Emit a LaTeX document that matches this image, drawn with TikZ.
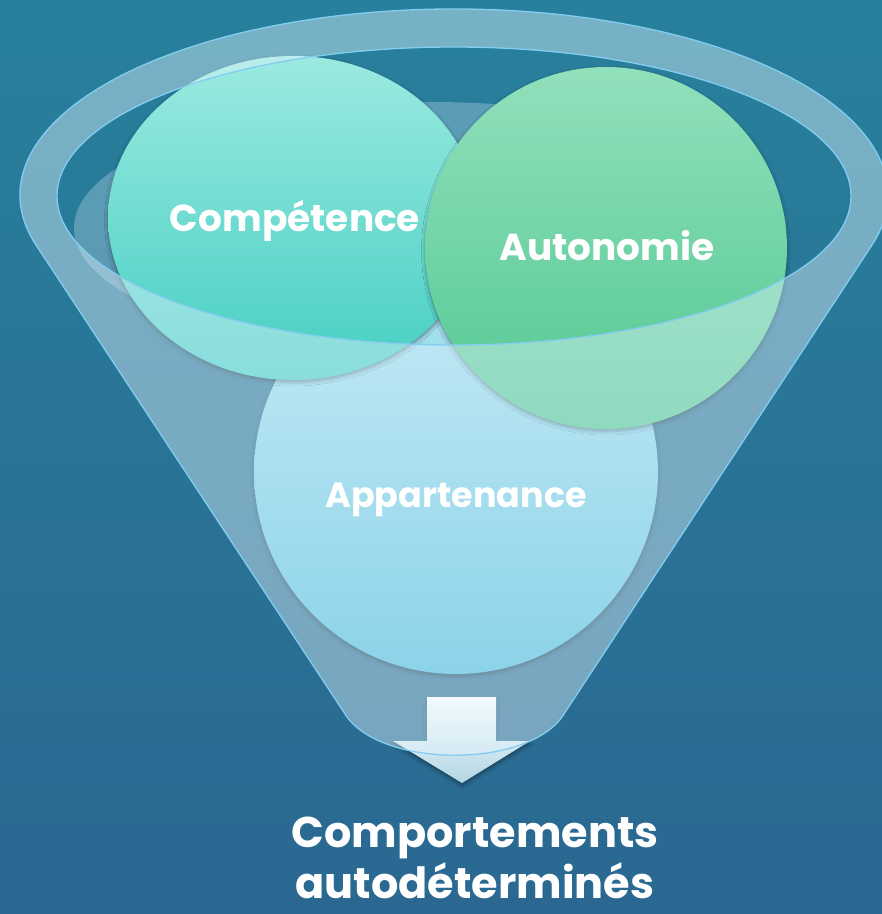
\documentclass[tikz,border=0pt]{standalone}
\usepackage{fontspec}
\setmainfont{Poppins}
\usetikzlibrary{shadows.blur}
\definecolor{bgtop}{RGB}{40,128,156}
\definecolor{bgbot}{RGB}{42,104,145}
\definecolor{glass}{RGB}{225,243,252}
\definecolor{rimline}{RGB}{130,205,240}
\definecolor{comptop}{RGB}{155,234,224}
\definecolor{compbot}{RGB}{70,206,194}
\definecolor{autotop}{RGB}{145,224,187}
\definecolor{autobot}{RGB}{82,200,146}
\definecolor{apptop}{RGB}{178,229,241}
\definecolor{appbot}{RGB}{76,187,220}
\definecolor{arrowbot}{RGB}{178,214,228}
\begin{document}
\begin{tikzpicture}[x=1pt,y=-1pt,
  lbl/.style={text=white,font=\bfseries\fontsize{37.5}{37.5}\selectfont,anchor=base,inner sep=0pt},
  big/.style={lbl,font=\bfseries\fontsize{43}{43}\selectfont},
  bubble/.style={blur shadow={shadow xshift=0pt,shadow yshift=-2.5pt,shadow blur radius=3.5pt,shadow opacity=40}},
  rimedge/.style={draw=rimline,line width=1.3pt}]
\useasboundingbox (0,0) rectangle (882,914);
\shade[top color=bgtop,bottom color=bgbot] (0,0) rectangle (882,914);
% back inner wall of the funnel
\fill[glass,opacity=.28] (430,228) ellipse[x radius=356pt,y radius=126pt];
% circles
\path[bubble,top color=apptop,bottom color=appbot] (456,472) circle[radius=202pt];
\path[bubble,top color=comptop,bottom color=compbot] (293,218) ellipse[x radius=185pt,y radius=162pt];
\path[bubble,top color=autotop,bottom color=autobot] (606,248) circle[radius=181pt];
% arrow
\path[bubble,top color=white,bottom color=arrowbot] (427,697) -- (496,697) -- (496,741) -- (530,741) -- (462,783) -- (393,741) -- (427,741) -- cycle;
% funnel glass body
\fill[glass,opacity=.43,even odd rule] (454,195) ++(195.7:434pt and 186pt)
  arc[start angle=195.7,end angle=-15.7,x radius=434pt,y radius=186pt]
  -- (562,717) .. controls (525,768) and (385,768) .. (347,717) -- cycle
  (454,196) ellipse[x radius=397pt,y radius=149pt];
\draw[rimedge] (454,195) ++(195.7:434pt and 186pt)
  arc[start angle=195.7,end angle=-15.7,x radius=434pt,y radius=186pt]
  -- (562,717) .. controls (525,768) and (385,768) .. (347,717) -- cycle;
\draw[rimedge] (454,196) ellipse[x radius=397pt,y radius=149pt];
% labels
\node[lbl] (tcomp) at (295,231) {Compétence};
\node[lbl] (tauto) at (607,260) {Autonomie};
\node[lbl,font=\bfseries\fontsize{35}{35}\selectfont] (tapp) at (456,507) {Appartenance};
\node[big] (tres1) at (475,847) {Comportements};
\node[big] (tres2) at (475,898) {autodéterminés};
\end{tikzpicture}
\end{document}
